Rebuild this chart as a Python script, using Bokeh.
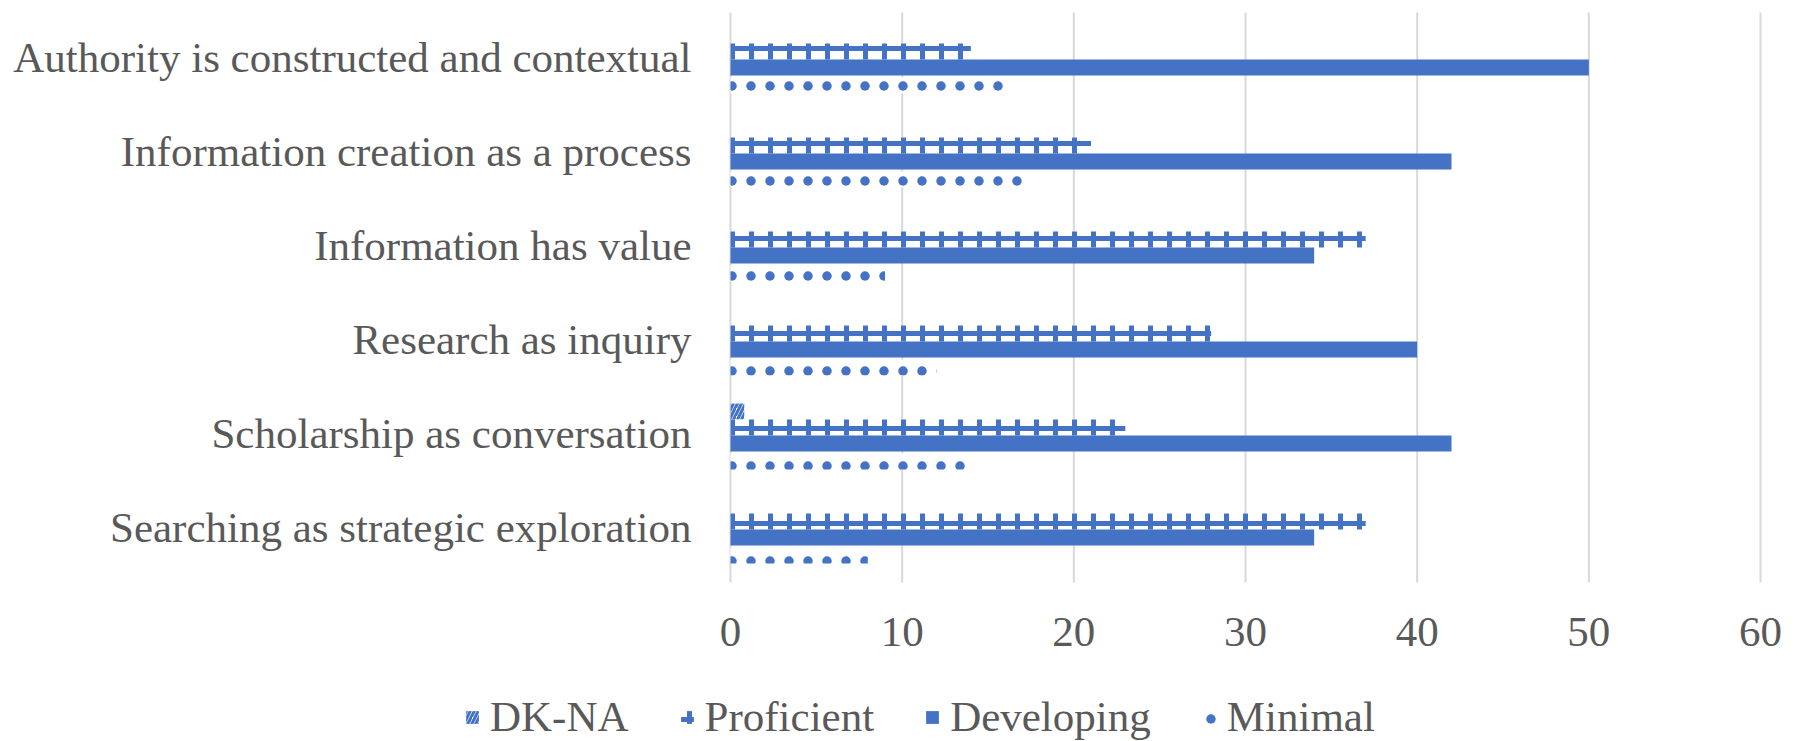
import numpy as np
from bokeh.plotting import figure
from bokeh.models import Legend, LegendItem, ColumnDataSource, Range1d
from bokeh.core.properties import value
from bokeh.embed import file_html
from bokeh.resources import INLINE

categories = [
    "Authority is constructed and contextual",
    "Information creation as a process",
    "Information has value",
    "Research as inquiry",
    "Scholarship as conversation",
    "Searching as strategic exploration",
]
series_names = ["DK-NA", "Proficient", "Developing", "Minimal"]
dk_na = [0, 0, 0, 0, 0.8, 0]
proficient = [14, 21, 37, 28, 23, 37]
developing = [50, 42, 34, 40, 42, 34]
minimal = [16, 17, 9, 12, 14, 8]
x_ticks = [0, 10, 20, 30, 40, 50, 60]
x_tick_labels = ["0", "10", "20", "30", "40", "50", "60"]

BLUE = "#4472C4"
GREY = "#595959"
FONT = "Liberation Serif"
FS = "43px"

styles = [
    dict(fill_color="white", line_color=None, hatch_pattern="right_diagonal_line",
         hatch_color=BLUE, hatch_scale=8, hatch_weight=3),
    dict(fill_color="white", line_color=None, hatch_pattern="cross",
         hatch_color=BLUE, hatch_scale=19, hatch_weight=5),
    dict(fill_color=BLUE, line_color=None),
    dict(fill_color="white", line_color=None, hatch_pattern="dot",
         hatch_color=BLUE, hatch_scale=19, hatch_weight=3),
]
series_values = [dk_na, proficient, developing, minimal]

W, H = 1790, 741
px_per_x = 1030 / 60.0      # value axis 0..60 spans 1030 px
x0_px = 730
px_per_y = 94.0
top_px = 12

offsets = [0.255, 0.085, -0.085, -0.255 - 2 / px_per_y]
bar_h = 0.17

n = len(categories)
centers = np.arange(n)[::-1] + 0.5   # first category on top

x_range = Range1d(-x0_px / px_per_x, (W - x0_px) / px_per_x)
y_range = Range1d(n + top_px / px_per_y - H / px_per_y, n + top_px / px_per_y)

p = figure(width=W, height=H, x_range=x_range, y_range=y_range,
           output_backend="svg", toolbar_location=None,
           x_axis_location=None, y_axis_location=None,
           min_border_left=0, min_border_right=0, min_border_top=0, min_border_bottom=0)
p.outline_line_color = None
p.grid.visible = False

# vertical gridlines over the category area
grid_bottom = -6 / px_per_y
p.segment(x0=x_ticks, x1=x_ticks, y0=[grid_bottom] * len(x_ticks), y1=[n] * len(x_ticks),
          line_color="#D9D9D9", line_width=2)

rs = []
for vals, off, st in zip(series_values, offsets, styles):
    src = ColumnDataSource(dict(y=centers + off, right=vals))
    rs.append(p.hbar(y="y", right="right", left=0, height=bar_h, source=src, **st))

# category labels (left) and value tick labels (bottom)
p.text(x=[-39 / px_per_x] * n, y=centers + 2 / px_per_y, text=categories,
       text_font=value(FONT), text_font_size=FS, text_color=GREY,
       text_align="right", text_baseline="middle")
p.text(x=x_ticks, y=[-(631 - top_px) / px_per_y + n] * len(x_ticks), text=x_tick_labels,
       text_font=value(FONT), text_font_size=FS, text_color=GREY,
       text_align="center", text_baseline="middle")

legend = Legend(
    items=[LegendItem(label=nm, renderers=[r]) for nm, r in zip(series_names, rs)],
    orientation="horizontal", location=(464, 0),
    label_text_font=FONT, label_text_font_size=FS, label_text_color=GREY,
    glyph_width=16, glyph_height=16, label_standoff=10, spacing=50,
    border_line_color=None, background_fill_alpha=0, padding=0, margin=0,
)
p.add_layout(legend, "center")

open("out.html", "w").write(file_html(p, INLINE))
